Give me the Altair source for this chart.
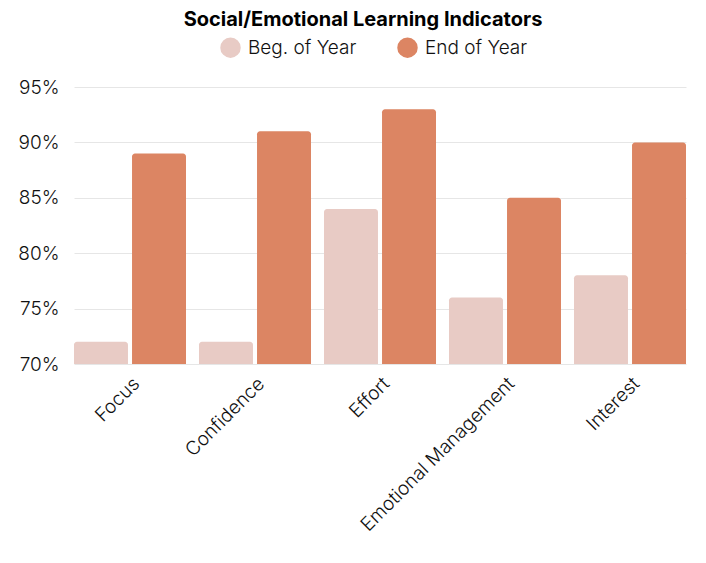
import altair as alt
import pandas as pd

categories = ["Focus", "Confidence", "Effort", "Emotional Management", "Interest"]
beg_of_year = [72, 72, 84, 76, 78]
end_of_year = [89, 91, 93, 85, 90]
series = ["Beg. of Year", "End of Year"]
colors = ["#E8CBC5", "#DC8563"]

rows = []
for c, b, e in zip(categories, beg_of_year, end_of_year):
    rows.append({"Indicator": c, "Period": series[0], "Value": b})
    rows.append({"Indicator": c, "Period": series[1], "Value": e})
df = pd.DataFrame(rows)

FONT = "Inter"

chart = alt.Chart(df).mark_bar(
    cornerRadiusTopLeft=3, cornerRadiusTopRight=3
).encode(
    x=alt.X("Indicator:N", sort=categories, title=None,
            scale=alt.Scale(paddingInner=0.104, paddingOuter=0),
            axis=alt.Axis(labelAngle=-45, labelFontSize=19, labelColor="#111",
                          labelFont=FONT, labelFontWeight=300, ticks=False, domain=False,
                          labelPadding=10, labelLimit=0, grid=False)),
    xOffset=alt.XOffset("Period:N", sort=series,
                        scale=alt.Scale(paddingInner=0.07, paddingOuter=0)),
    y=alt.Y("Value:Q", title=None,
            scale=alt.Scale(domain=[70, 95], zero=False, nice=False),
            axis=alt.Axis(values=[70, 75, 80, 85, 90, 95], labelExpr="datum.value + '%'",
                          labelFontSize=19, labelColor="#111", labelFont=FONT,
                          labelFontWeight=300,
                          ticks=False, domain=False, labelPadding=15,
                          gridColor="#E6E6E6", gridWidth=1)),
    y2=alt.datum(70),
    color=alt.Color("Period:N", sort=series,
                    scale=alt.Scale(domain=series, range=colors),
                    legend=alt.Legend(orient="none", legendX=146, legendY=-50,
                                      direction="horizontal", title=None,
                                      symbolType="circle", symbolSize=420,
                                      labelFontSize=19, labelFont=FONT, labelColor="#111",
                                      labelFontWeight=300,
                                      columnPadding=40, symbolStrokeWidth=0,
                                      labelOffset=7)),
).properties(
    width=612, height=277,
    title=alt.TitleParams("Social/Emotional Learning Indicators", fontSize=20,
                          font=FONT, fontWeight="bold", color="#000", offset=7, dx=-17),
).configure(
    padding={"left": 9, "top": 2, "right": 12, "bottom": 5}
).configure_view(stroke=None)

chart.save("out.html", embed_options={"renderer": "svg", "actions": False})
